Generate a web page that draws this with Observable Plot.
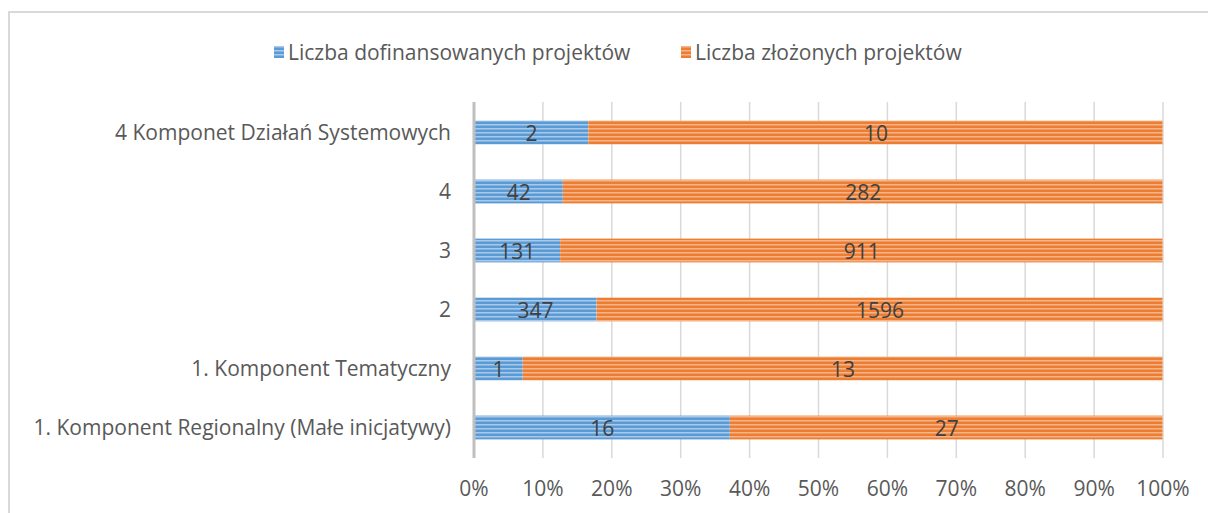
<!DOCTYPE html>
<html>
<head>
<meta charset="utf-8">
<script src="https://cdn.jsdelivr.net/npm/d3@7"></script>
<script src="https://cdn.jsdelivr.net/npm/@observablehq/plot@0.6"></script>
<style>
  html, body { margin: 0; padding: 0; background: #fff; width: 1208px; height: 513px; overflow: hidden; position: relative; }
  #frame { position: absolute; left: 8px; top: 11px; width: 1400px; height: 800px; border-left: 2px solid #d9d9d9; border-top: 2px solid #d9d9d9; box-sizing: border-box; pointer-events: none; }
  #legend { height: 80px; position: relative; font-family: "Open Sans", sans-serif; font-size: 21px; color: #595959; }
  .item { position: absolute; top: 37px; height: 30px; display: flex; align-items: center; white-space: nowrap; }
  .item svg { margin-right: 4px; }
  #chart { position: relative; }
</style>
</head>
<body>
<div id="frame"></div>
<svg width="0" height="0" style="position:absolute">
  <defs>
    <pattern id="blueStripes" patternUnits="userSpaceOnUse" width="8" height="4">
      <rect width="8" height="4" fill="#5b9bd5"></rect>
      <rect y="0" width="8" height="1.5" fill="#a9c9ea"></rect>
    </pattern>
    <pattern id="orangeStripes" patternUnits="userSpaceOnUse" width="8" height="4">
      <rect width="8" height="4" fill="#ed7d31"></rect>
      <rect y="0" width="8" height="1.5" fill="#f5b48a"></rect>
    </pattern>
  </defs>
</svg>
<div id="legend"></div>
<div id="chart"></div>
<script>
const categories = [
  "4 Komponet Działań Systemowych",
  "4",
  "3",
  "2",
  "1. Komponent Tematyczny",
  "1. Komponent Regionalny (Małe inicjatywy)"
];
const seriesNames = ["Liczba dofinansowanych projektów", "Liczba złożonych projektów"];
const funded = [2, 42, 131, 347, 1, 16];
const submitted = [10, 282, 911, 1596, 13, 27];
const xTicks = [0, 0.1, 0.2, 0.3, 0.4, 0.5, 0.6, 0.7, 0.8, 0.9, 1];
const fills = ["url(#blueStripes)", "url(#orangeStripes)"];

const data = [];
categories.forEach((c, i) => {
  data.push({cat: c, series: seriesNames[0], value: funded[i]});
  data.push({cat: c, series: seriesNames[1], value: submitted[i]});
});

// Legend
const legend = document.getElementById("legend");
const legendX = [274, 681];
seriesNames.forEach((name, i) => {
  const d = document.createElement("div");
  d.className = "item";
  d.style.left = legendX[i] + "px";
  d.innerHTML = `<svg width="10" height="12"><rect width="10" height="12" fill="${fills[i]}"></rect></svg><span>${name}</span>`;
  legend.appendChild(d);
});

const chart = Plot.plot({
  width: 1208,
  height: 433,
  marginLeft: 473.5,
  marginRight: 45.5,
  marginTop: 22,
  marginBottom: 55,
  style: {fontFamily: "'Open Sans', sans-serif", fontSize: "21px", color: "#595959", background: "transparent"},
  x: {domain: [0, 1], ticks: xTicks, tickFormat: d3.format(".0%")},
  y: {domain: categories, padding: 0},
  marks: [
    Plot.ruleX(xTicks.slice(1), {stroke: "#d9d9d9", strokeWidth: 1.5, strokeOpacity: 1}),
    Plot.barX(data, Plot.stackX({
      x: "value", y: "cat", z: "series", offset: "normalize", order: null,
      fill: d => fills[seriesNames.indexOf(d.series)],
      insetTop: 17.6, insetBottom: 17.6
    })),
    Plot.textX(data, Plot.stackX({
      x: "value", y: "cat", z: "series", offset: "normalize", order: null,
      text: d => String(d.value), fill: "#404040", fontSize: 21, dy: 1
    })),
    Plot.ruleX([0], {stroke: "#bfbfbf", strokeWidth: 3}),
    Plot.axisX({ticks: xTicks, tickFormat: d3.format(".0%"), tickSize: 0, tickPadding: 23, fontSize: 21, label: null}),
    Plot.axisY({tickSize: 0, tickPadding: 23, fontSize: 21, label: null})
  ]
});
document.getElementById("chart").appendChild(chart);
</script>
</body>
</html>
